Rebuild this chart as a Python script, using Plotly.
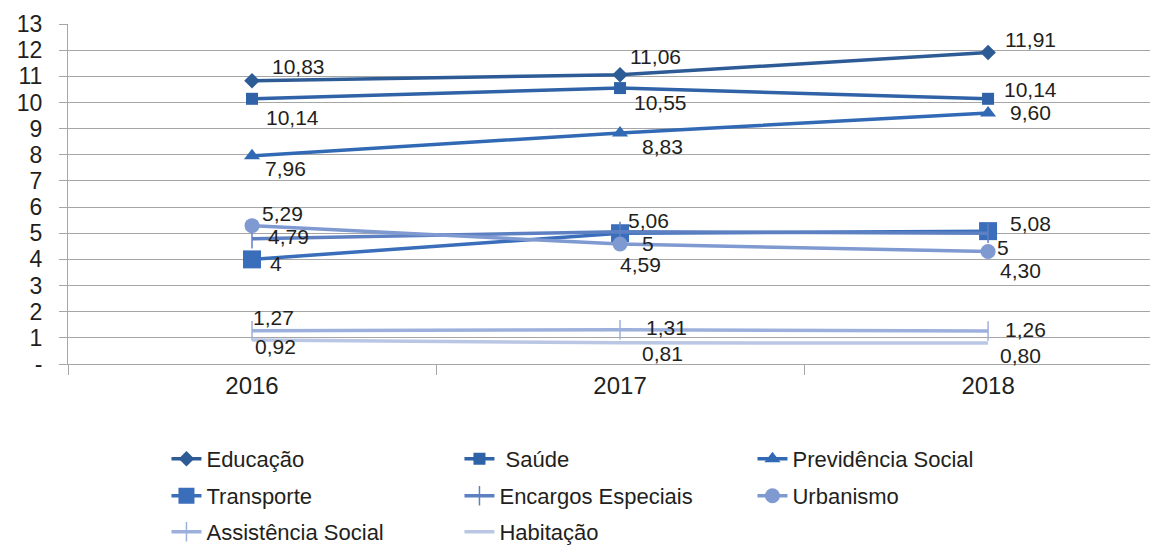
import plotly.graph_objects as go

# Categories and series values
years = ["2016", "2017", "2018"]
educacao = [10.83, 11.06, 11.91]
saude = [10.14, 10.55, 10.14]
previdencia = [7.96, 8.83, 9.60]
transporte = [4, 5, 5.08]
encargos = [4.79, 5.06, 5]
urbanismo = [5.29, 4.59, 4.30]
assistencia = [1.27, 1.31, 1.26]
habitacao = [0.92, 0.81, 0.80]

y_ticks = list(range(0, 14))
y_tick_labels = ["-"] + [str(v) for v in range(1, 14)]

FONT = "Liberation Sans, Arial, sans-serif"
TEXT_COLOR = "#231F20"


def fmt(v):
    if float(v).is_integer():
        return str(int(v))
    return f"{v:.2f}".replace(".", ",")


# name, values, color, marker symbol, marker size, label offsets (dx, dy px), legend
series = [
    ("Educação", educacao, "#2C5B95", "diamond", 12,
     [(46, 14), (35, 18), (42, 13)], "legend"),
    (" Saúde", saude, "#2F62A6", "square", 12,
     [(40, -19), (40, -14), (42, 9)], "legend"),
    ("Previdência Social", previdencia, "#3169B4", "triangle-up", 14,
     [(33, -13), (42, -13), (42, 0)], "legend"),
    ("Transporte", transporte, "#3A6EBB", "square", 18,
     [(24, -4), (28, -10), (42, 8)], "legend2"),
    ("Encargos Especiais", encargos, "#5D80C2", "line-ns", 14,
     [(36, 2), (28, 11), (15, -14)], "legend2"),
    ("Urbanismo", urbanismo, "#7F99D1", "circle", 15,
     [(30, 12), (20, -21), (32, -19)], "legend2"),
    ("Assistência Social", assistencia, "#9DB0DC", "line-ns", 14,
     [(21, 13), (46, 2), (37, 2)], "legend3"),
    ("Habitação", habitacao, "#B9C7E5", None, 0,
     [(23, -7), (42, -11), (32, -12)], "legend3"),
]

fig = go.Figure()
annotations = []
for name, vals, color, symbol, size, offsets, lg in series:
    if symbol is None:
        marker = dict(color=color, size=1, opacity=0)
    else:
        marker = dict(color=color, size=size, symbol=symbol)
        if symbol == "line-ns":
            marker["line"] = dict(color=color, width=1.5)
    fig.add_trace(go.Scatter(
        x=years, y=vals, name=name, legend=lg,
        mode="lines+markers",
        line=dict(color=color, width=3.5),
        marker=marker,
        cliponaxis=False,
    ))
    # value labels, placed by category index on the x axis
    for i, (v, (dx, dy)) in enumerate(zip(vals, offsets)):
        annotations.append(dict(
            x=i, y=v, xref="x", yref="y", text=fmt(v), showarrow=False,
            xshift=dx, yshift=dy, xanchor="center", yanchor="middle",
            font=dict(family=FONT, size=21, color=TEXT_COLOR),
        ))

legend_common = dict(
    orientation="h", xanchor="left", yanchor="middle", yref="container",
    entrywidth=248, entrywidthmode="pixels",
    font=dict(family=FONT, size=22, color=TEXT_COLOR),
    bgcolor="rgba(0,0,0,0)", itemclick=False, itemdoubleclick=False,
)
fig.update_layout(
    width=1161, height=546,
    margin=dict(l=68, r=11, t=21, b=182),
    paper_bgcolor="white", plot_bgcolor="white",
    showlegend=True,
    legend=dict(x=0.091, y=1 - 459 / 546, **legend_common),
    legend2=dict(x=0.091, y=1 - 496 / 546, **legend_common),
    legend3=dict(x=0.091, y=1 - 532 / 546, **legend_common),
    font=dict(family=FONT, color=TEXT_COLOR),
)
for a in annotations:
    fig.add_annotation(**a)

fig.update_xaxes(
    type="category", range=[-0.5, 2.44],
    showgrid=False, showline=True, linecolor="#A6A6A6", linewidth=1,
    ticks="outside", tickson="boundaries", ticklen=10, tickcolor="#A6A6A6",
    tickfont=dict(family=FONT, size=24, color=TEXT_COLOR),
)
fig.update_yaxes(
    range=[0, 13], tickvals=y_ticks, ticktext=y_tick_labels,
    showgrid=True, gridcolor="#A6A6A6", gridwidth=1,
    showline=True, linecolor="#A6A6A6", linewidth=1,
    ticks="outside", ticklen=8, tickcolor="#A6A6A6", ticklabelstandoff=12,
    tickfont=dict(family=FONT, size=23, color=TEXT_COLOR), zeroline=False,
)

fig.write_html("out.html")
